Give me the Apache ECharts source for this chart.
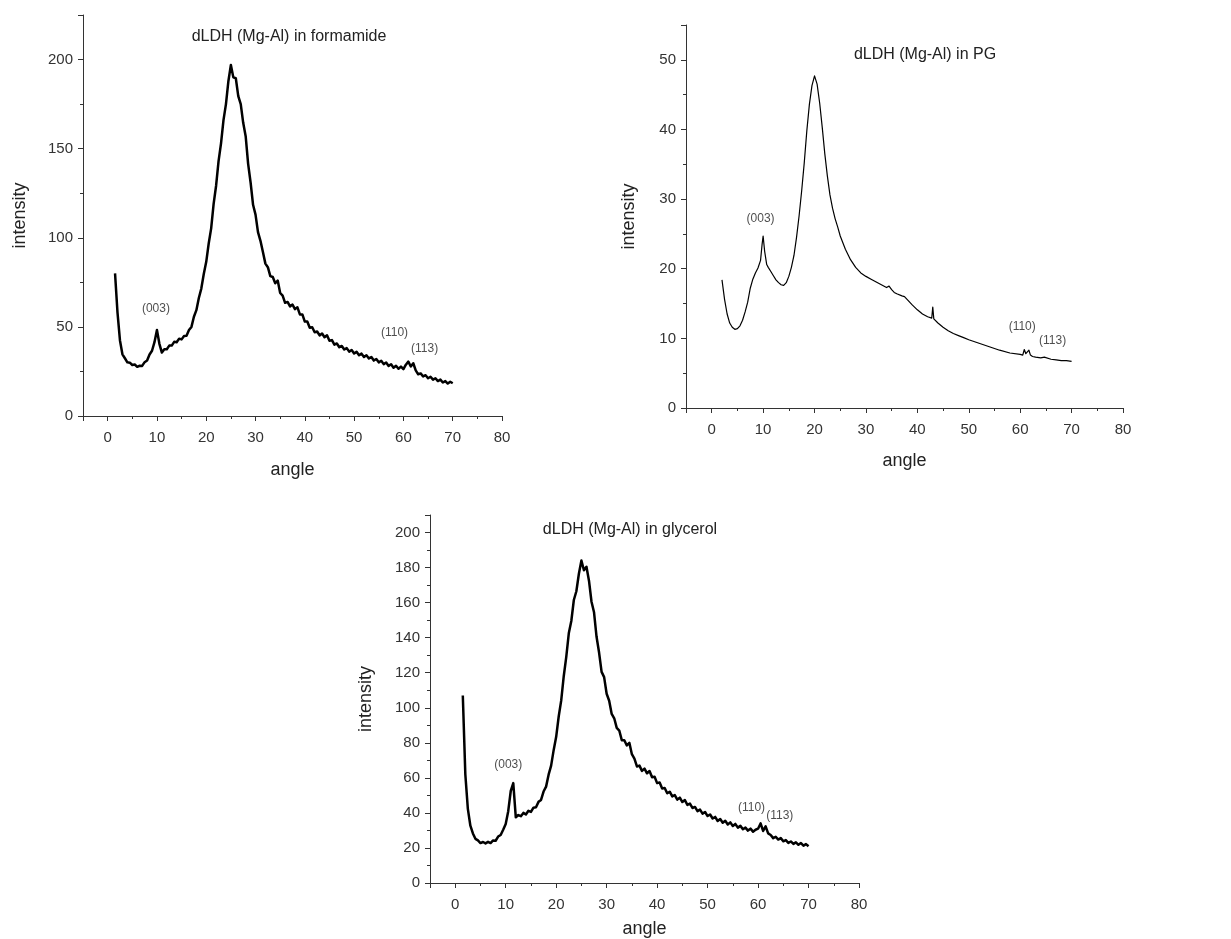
<!DOCTYPE html>
<html>
<head>
<meta charset="utf-8">
<script src="https://cdn.jsdelivr.net/npm/echarts@6/dist/echarts.min.js"></script>
<style>
html,body{margin:0;padding:0;background:#fff;}
#c{width:1231px;height:939px;}
</style>
</head>
<body>
<div id="c"></div>
<script>
// ---------- DATA ----------
const panelTitles = ['dLDH (Mg-Al) in formamide', 'dLDH (Mg-Al) in PG', 'dLDH (Mg-Al) in glycerol'];
const xTickValues = [0, 10, 20, 30, 40, 50, 60, 70, 80];

// formamide: intensity sampled every 0.5 degree from 1.5 to 70.0
const formamideStart = 1.5, formamideStep = 0.5;
const formamideIntensity = [
  80, 58, 42.4, 34.6, 32.4, 30.1, 29.9, 28.6, 28.9, 27.6,
  28.2, 28.1, 30.2, 31.1, 34.5, 36.6, 41.4, 48.3, 40.5, 35.6,
  37.5, 37.5, 39.5, 39.5, 41.6, 41.4, 43.4, 43, 44.9, 45,
  48.2, 50, 55.7, 59.4, 66.2, 71.5, 79.7, 86.5, 96.8, 105.3,
  119, 129.2, 143, 153, 166, 175, 188, 197, 190, 189.5,
  179.5, 175, 164.5, 157, 141.5, 131, 118.5, 113, 103.2, 98.3,
  92, 85.5, 83.5, 78.5, 78, 74.5, 76, 69, 67.5, 63.5,
  64, 61.5, 62.5, 60, 61, 57, 57, 53, 53, 49.5,
  49.8, 47, 47.4, 45.2, 46.3, 44.2, 45.3, 42.2, 42.6, 40,
  40.7, 38.6, 39.3, 37.3, 38.1, 36.1, 37, 35.1, 36, 34.1,
  35, 33.1, 34.1, 32.3, 33.1, 31.1, 32, 30.1, 31, 29.1,
  30, 28.1, 29, 27.1, 28.2, 26.5, 27.7, 26.3, 28.8, 30.5,
  27.8, 29.6, 25.6, 23.4, 23.9, 22.2, 22.9, 21.2, 22, 20.4,
  21.2, 19.6, 20.4, 18.8, 19.6, 18.2, 19.2, 18.4
];

// PG: [angle, intensity]
const pgPoints = [
  [2.0,18.4],[2.5,15.6],[3.0,13.5],[3.5,12.2],[4.0,11.6],[4.5,11.3],[5.0,11.4],[5.5,11.8],
  [6.0,12.6],[6.5,13.8],[7.0,15.2],[7.5,17.2],[8.0,18.5],[8.5,19.4],[9.0,20.1],[9.5,21.2],
  [9.8,23.5],[10.0,24.7],[10.3,22.5],[10.7,20.6],[11.0,20.2],[11.5,19.6],[12.0,19.0],[12.5,18.4],
  [13.0,18.0],[13.5,17.7],[14.0,17.6],[14.5,18.0],[15.0,18.9],[15.5,20.2],[16.0,21.9],[16.5,24.5],
  [17.0,27.6],[17.5,31.2],[18.0,35.2],[18.5,39.8],[19.0,43.6],[19.5,46.3],[20.0,47.7],[20.5,46.5],
  [21.0,43.8],[21.5,40.3],[22.0,36.5],[22.5,33.3],[23.0,30.6],[23.5,28.7],[24.0,27.2],[24.5,26.0],
  [25.0,24.7],[26.0,22.8],[27.0,21.3],[28.0,20.2],[29.0,19.4],[30.0,18.9],[31.0,18.5],[32.0,18.1],
  [33.0,17.7],[34.0,17.3],[34.5,17.5],[35.0,17.0],[35.5,16.6],[36.0,16.4],[37.0,16.1],[37.5,16.0],
  [38.0,15.6],[39.0,14.8],[40.0,14.1],[41.0,13.5],[42.0,13.1],[42.8,12.9],[43.0,14.5],[43.2,12.8],
  [44.0,12.2],[45.0,11.6],[46.0,11.1],[47.0,10.7],[48.0,10.4],[49.0,10.1],[50.0,9.8],[52.0,9.3],
  [54.0,8.8],[56.0,8.3],[58.0,7.9],[60.0,7.7],[60.5,7.6],[60.8,8.4],[61.1,7.8],[61.4,7.9],
  [61.7,8.3],[62.0,7.6],[62.4,7.4],[63.0,7.3],[64.0,7.2],[64.7,7.3],[65.0,7.1],[66.0,7.0],
  [67.0,6.9],[68.0,6.8],[69.0,6.8],[70.0,6.7]
];

// glycerol: intensity sampled every 0.5 degree from 1.5 to 70.0
const glycerolStart = 1.5, glycerolStep = 0.5;
const glycerolIntensity = [
  107, 62, 42.3, 32.7, 28.3, 25.2, 24.3, 22.8, 23.4, 22.6,
  23.5, 22.8, 24.3, 24.1, 26.5, 27.4, 30.4, 33.7, 41, 52.5,
  57, 37.5, 38.8, 38.1, 40, 39.1, 41.2, 40.6, 43, 43.2,
  46.3, 47.4, 52.2, 55, 61.8, 67, 75.8, 83.4, 95, 104.2,
  118, 129, 142.5, 149.5, 161.5, 166.5, 176.5, 184, 178.5, 180.5,
  172.5, 160.5, 154.5, 140.5, 131.5, 120.5, 117.5, 108, 104, 96.5,
  94, 88.5, 87, 81.5, 81.5, 78.5, 80, 73.5, 71, 66.5,
  67, 64, 65.3, 62.6, 63.9, 60.3, 60.6, 57, 57.4, 53.9,
  54.2, 51.2, 52.1, 49.4, 50.2, 47.6, 48.7, 46.2, 47.3, 44.6,
  45.3, 42.8, 43.4, 41, 41.9, 39.6, 40.5, 38.2, 39.1, 36.8,
  37.7, 35.4, 36.5, 34.4, 35.5, 33.4, 34.6, 32.5, 33.7, 31.6,
  32.6, 30.7, 31.6, 29.9, 31, 29.3, 30.4, 31, 34, 29.7,
  32.3, 28.3, 27.4, 25.6, 26.4, 24.8, 25.6, 23.8, 24.5, 22.9,
  23.7, 22.3, 23.2, 21.8, 22.8, 21.3, 22.2, 21
];

// peak annotations: [angle, intensity, text]
const formamideNotes = [[9.8, 60, '(003)'], [58.2, 47, '(110)'], [64.3, 37.6, '(113)']];
const pgNotes = [[9.5, 27.2, '(003)'], [60.4, 11.7, '(110)'], [66.3, 9.7, '(113)']];
const glycerolNotes = [[10.5, 67.3, '(003)'], [58.7, 43, '(110)'], [64.3, 38.4, '(113)']];

// y axis ranges
const yMax = [225, 55, 210];
const yStep = [50, 10, 20];

// ---------- BUILD ----------
function sampled(start, step, vals) {
  return vals.map((v, i) => [+(start + i * step).toFixed(2), v]);
}
const seriesData = [
  sampled(formamideStart, formamideStep, formamideIntensity),
  pgPoints,
  sampled(glycerolStart, glycerolStep, glycerolIntensity)
];
const notes = [formamideNotes, pgNotes, glycerolNotes];

const FONT = '"Liberation Sans", Arial, sans-serif';
const grids = [
  {left: 83, top: 15, width: 419, height: 401},
  {left: 686, top: 25, width: 437, height: 383},
  {left: 430, top: 515, width: 429, height: 371}
];
const xNameGap = [45, 44, 37];
const yNameGap = [54, 48, 55];
const titlePos = [[289, 37], [925, 55], [630, 530]];

const axisLine = {show: true, onZero: false, lineStyle: {color: '#333', width: 1}};
const xAxes = grids.map((g, i) => ({
  type: 'value', gridIndex: i, min: -5, max: 80,
  minInterval: 10, maxInterval: 10, splitNumber: 8,
  axisLine: axisLine,
  axisTick: {show: true, inside: false, length: 5, lineStyle: {color: '#333'}},
  minorTick: {show: true, splitNumber: 2, length: 3, lineStyle: {color: '#333'}},
  splitLine: {show: false},
  axisLabel: {fontSize: 15, color: '#333', fontFamily: FONT, margin: 14,
    formatter: v => xTickValues.indexOf(v) >= 0 ? String(v) : ''},
  name: 'angle', nameLocation: 'middle', nameGap: xNameGap[i],
  nameTextStyle: {fontSize: 18, color: '#222', fontFamily: FONT}
}));
const yAxes = grids.map((g, i) => ({
  type: 'value', gridIndex: i, min: 0, max: yMax[i],
  minInterval: yStep[i], maxInterval: yStep[i],
  axisLine: axisLine,
  axisTick: {show: true, inside: false, length: 5, lineStyle: {color: '#333'}},
  minorTick: {show: true, splitNumber: 2, length: 3, lineStyle: {color: '#333'}},
  splitLine: {show: false},
  axisLabel: {fontSize: 15, color: '#333', fontFamily: FONT, margin: 10,
    formatter: v => (v % yStep[i] === 0) ? String(v) : ''},
  name: 'intensity', nameLocation: 'middle', nameGap: yNameGap[i],
  nameTextStyle: {fontSize: 18, color: '#222', fontFamily: FONT}
}));

const series = [];
seriesData.forEach((d, i) => {
  series.push({
    type: 'line', xAxisIndex: i, yAxisIndex: i, data: d,
    showSymbol: false, symbol: 'none', animation: false,
    lineStyle: {color: '#000', width: i === 1 ? 1.2 : 2.5, join: 'round'}
  });
  series.push({
    type: 'scatter', xAxisIndex: i, yAxisIndex: i, animation: false,
    symbolSize: 1, itemStyle: {color: 'rgba(0,0,0,0)'},
    data: notes[i].map(n => ({value: [n[0], n[1]], name: n[2]})),
    label: {show: true, position: 'inside', formatter: p => p.name,
      fontSize: 12, color: '#222', fontFamily: FONT}
  });
});

const graphic = panelTitles.map((t, i) => ({
  type: 'text', x: titlePos[i][0], y: titlePos[i][1],
  style: {text: t, fontSize: 16, fill: '#222', font: '16px ' + FONT,
    textAlign: 'center', textVerticalAlign: 'middle'}
}));

const chart = echarts.init(document.getElementById('c'));
chart.setOption({
  animation: false,
  backgroundColor: '#fff',
  grid: grids.map(g => Object.assign({containLabel: false}, g)),
  xAxis: xAxes,
  yAxis: yAxes,
  series: series,
  graphic: graphic
});
</script>
</body>
</html>
